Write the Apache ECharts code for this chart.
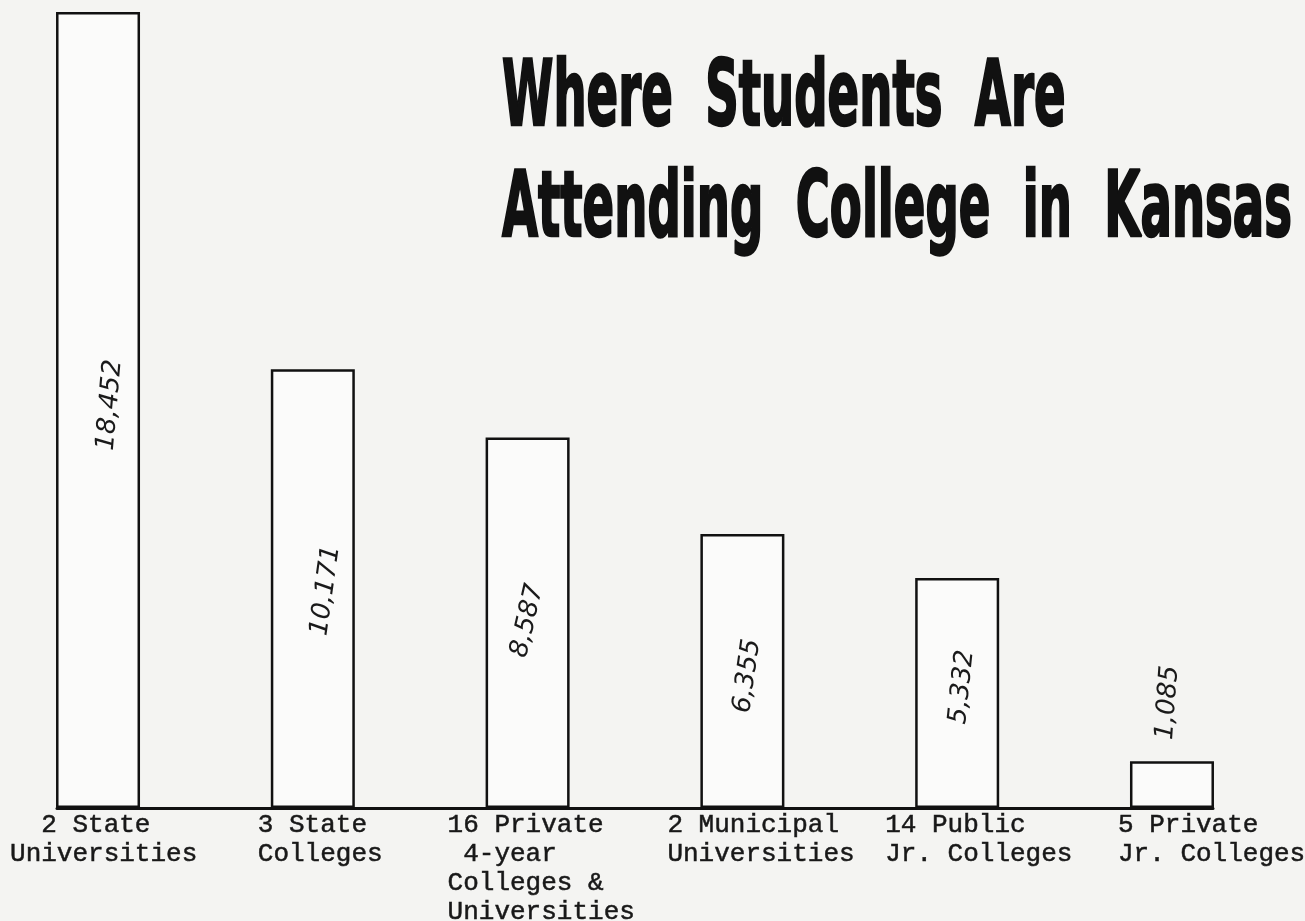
<!DOCTYPE html>
<html>
<head>
<meta charset="utf-8">
<script src="https://cdn.jsdelivr.net/npm/echarts@6/dist/echarts.min.js"></script>
<style>
  html, body { margin: 0; padding: 0; background: #f4f4f2; }
  #chart { width: 1305px; height: 921px; }
</style>
</head>
<body>
<div id="chart"></div>
<script>
// Enrollment by type of institution
const titleLines = ['Where  Students  Are', 'Attending  College  in  Kansas'];
const categories = [
  '  2 State\nUniversities',
  '3 State\nColleges',
  '16 Private\n 4-year\nColleges &\nUniversities',
  '2 Municipal\nUniversities',
  '14 Public\nJr. Colleges',
  '5 Private\nJr. Colleges'
];
const students = [18452, 10171, 8587, 6355, 5332, 1085];

// Hand-lettered figures: screen shift from the bar middle, and tilt
const figureShift = [[12, -5], [13, 2], [0, -2], [5, 5], [5, -6], [-4, -82]];
const figureRotate = [85, 82, 77, 82, 84, 86];
// Typed captions: left edge relative to the bar centre
const captionShift = [-88, -55, -80, -75, -72, -54];

// Label offsets are applied in the rotated frame, so turn screen shifts into it
function rotatedOffset(shift, deg) {
  const t = deg * Math.PI / 180;
  const c = Math.cos(t), s = Math.sin(t);
  return [shift[0] * c - shift[1] * s, shift[0] * s + shift[1] * c];
}

const titleFont = 'bold 90px "DejaVu Sans Condensed", "DejaVu Sans", sans-serif';
const measureCtx = document.createElement('canvas').getContext('2d');
measureCtx.font = titleFont;
const titleScale = 790 / measureCtx.measureText(titleLines[1]).width;

const chart = echarts.init(document.getElementById('chart'), null, { renderer: 'canvas' });

chart.setOption({
  animation: false,
  backgroundColor: '#f4f4f2',
  grid: { left: 57, right: 92, top: 10, bottom: 113 },
  xAxis: {
    type: 'value',
    min: -0.191,
    max: 5.191,
    axisLine: { show: true, onZero: false, lineStyle: { color: '#111', width: 3 } },
    axisTick: { show: false },
    axisLabel: { show: false },
    splitLine: { show: false }
  },
  yAxis: { type: 'value', min: 0, max: 18500, show: false },
  graphic: titleLines.map((t, i) => ({
    type: 'text',
    x: 502,
    y: [102, 213][i],
    scaleX: titleScale,
    style: {
      text: t,
      font: titleFont,
      fill: '#111',
      stroke: '#111',
      lineWidth: 2.5,
      align: 'left',
      verticalAlign: 'middle'
    }
  })),
  series: [
    {
      type: 'bar',
      barWidth: 84,
      data: students.map((v, i) => ({
        value: [i, v],
        label: {
          offset: rotatedOffset(figureShift[i], figureRotate[i]),
          rotate: figureRotate[i]
        }
      })),
      itemStyle: { color: '#fbfbfa', borderColor: '#111', borderWidth: 2.5 },
      label: {
        show: true,
        position: 'inside',
        formatter: p => p.value[1].toLocaleString('en-US'),
        fontFamily: 'DejaVu Sans',
        fontStyle: 'italic',
        fontSize: 26,
        color: '#1a1a1a'
      }
    },
    {
      type: 'bar',
      barWidth: 84,
      barGap: '-100%',
      silent: true,
      data: students.map((v, i) => ({
        value: [i, v],
        label: { offset: [captionShift[i], -2] }
      })),
      itemStyle: { color: 'rgba(0,0,0,0)' },
      label: {
        show: true,
        position: 'bottom',
        align: 'left',
        formatter: p => categories[p.dataIndex],
        fontFamily: 'Liberation Mono',
        fontSize: 26,
        lineHeight: 29,
        color: '#181818',
        textBorderColor: '#181818',
        textBorderWidth: 0.5
      }
    }
  ]
});
</script>
</body>
</html>
